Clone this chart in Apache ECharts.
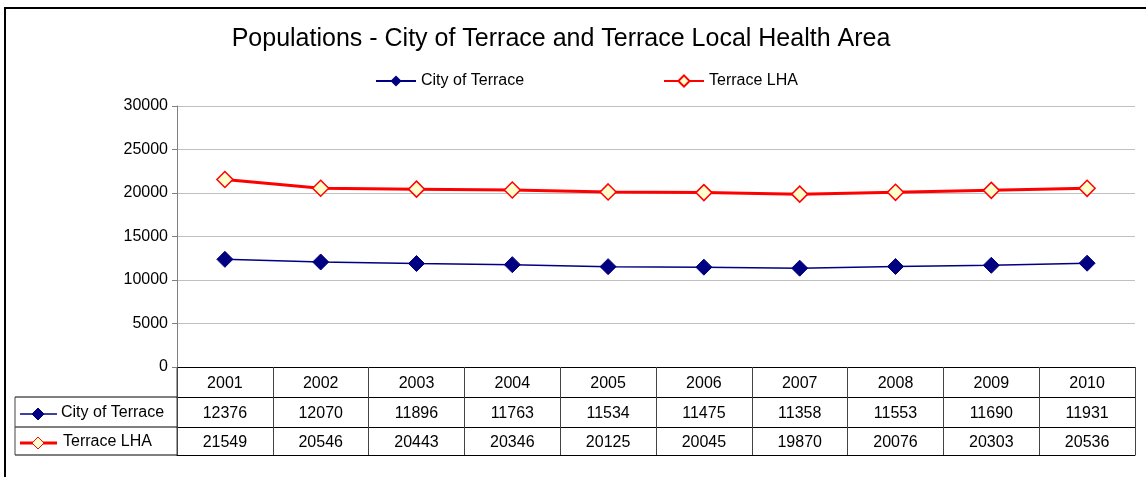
<!DOCTYPE html>
<html><head><meta charset="utf-8">
<script src="https://cdn.jsdelivr.net/npm/echarts@6/dist/echarts.min.js"></script>
<style>html,body{margin:0;padding:0;background:#fff}#c{width:1146px;height:477px}</style>
</head><body><div id="c"></div>
<script>
var years = ['2001','2002','2003','2004','2005','2006','2007','2008','2009','2010'];
var cityVals = [12376,12070,11896,11763,11534,11475,11358,11553,11690,11931];
var lhaVals = [21549,20546,20443,20346,20125,20045,19870,20076,20303,20536];
var seriesNames = ['City of Terrace','Terrace LHA'];
var yTicks = {min:0, max:30000, interval:5000};

var FONT = 'Liberation Sans, Arial, sans-serif';
var FS = 16;
var chart = echarts.init(document.getElementById('c'));
function tableAxis(offset, formatter, margin, tickLen, showLabel){
  return {
    type:'category', data:years, position:'bottom', offset:offset, boundaryGap:true,
    axisLine:{show:true, lineStyle:{color:'#000',width:1}},
    axisTick:{show:tickLen>0, length:tickLen, inside:false, interval:0, lineStyle:{color:'#444',width:1}},
    axisLabel:{show:showLabel, interval:0, margin:margin, color:'#000', fontSize:FS, fontFamily:FONT, lineHeight:18,
      formatter:formatter},
    splitLine:{show:false}
  };
}
var L = 15, R = 177;
function diamond(cx, cy, r, fill, stroke){
  return {type:'polygon', shape:{points:[[cx,cy-r],[cx+r,cy],[cx,cy+r],[cx-r,cy]]}, style:{fill:fill, stroke:stroke, lineWidth:1}};
}
chart.setOption({
  animation:false,
  backgroundColor:'#fff',
  title:{text:'Populations - City of Terrace and Terrace Local Health Area', left:556, top:22, textAlign:'center',
    textStyle:{fontFamily:FONT, fontSize:25, fontWeight:'normal', color:'#000'}},
  legend:[
    {data:[seriesNames[0]], left:375, top:73, padding:0, itemWidth:40, itemHeight:14, itemGap:5,
      textStyle:{fontFamily:FONT, fontSize:FS, color:'#000'}},
    {data:[seriesNames[1]], left:663, top:73, padding:0, itemWidth:40, itemHeight:14, itemGap:5,
      textStyle:{fontFamily:FONT, fontSize:FS, color:'#000'}}
  ],
  grid:{left:177, right:11, top:106, bottom:110, containLabel:false},
  xAxis:[
    tableAxis(0, function(v){return v;}, 8, 30, true),
    tableAxis(30, function(v,i){return String(cityVals[i]);}, 8, 30, true),
    tableAxis(60, function(v,i){return String(lhaVals[i]);}, 7, 28, true),
    tableAxis(88, function(){return '';}, 0, 0, false)
  ],
  yAxis:{type:'value', min:yTicks.min, max:yTicks.max, interval:yTicks.interval,
    axisLine:{show:true, lineStyle:{color:'#808080'}},
    axisTick:{show:true, length:5, lineStyle:{color:'#808080'}},
    axisLabel:{color:'#000', fontSize:FS, fontFamily:FONT, margin:9, formatter:function(v){return String(v);}},
    splitLine:{lineStyle:{color:'#c0c0c0', width:1}}},
  series:[
    {name:seriesNames[0], type:'line', data:cityVals, xAxisIndex:0, symbol:'diamond', symbolSize:16,
      lineStyle:{color:'#000080', width:1.5}, itemStyle:{color:'#000080', borderColor:'#000080'}, color:'#000080'},
    {name:seriesNames[1], type:'line', data:lhaVals, xAxisIndex:0, symbol:'diamond', symbolSize:16,
      lineStyle:{color:'#ff0000', width:3}, itemStyle:{color:'#ffffcc', borderColor:'#ff0000', borderWidth:1.5}, color:'#ff0000'}
  ],
  graphic:[
    {type:'rect', shape:{x:5, y:8, width:1300, height:700}, style:{fill:'none', stroke:'#000', lineWidth:2}},
    {type:'line', shape:{x1:L, y1:397, x2:R, y2:397}, style:{stroke:'#000', lineWidth:1}},
    {type:'line', shape:{x1:L, y1:427, x2:R, y2:427}, style:{stroke:'#000', lineWidth:1}},
    {type:'line', shape:{x1:L, y1:455, x2:R, y2:455}, style:{stroke:'#000', lineWidth:1}},
    {type:'line', shape:{x1:L, y1:397, x2:L, y2:455}, style:{stroke:'#444', lineWidth:1}},
    {type:'line', shape:{x1:R, y1:367, x2:R, y2:455}, style:{stroke:'#444', lineWidth:1}},
    {type:'line', shape:{x1:20, y1:414, x2:57, y2:414}, style:{stroke:'#000080', lineWidth:1.5}},
    diamond(38, 414, 6, '#000080', '#000080'),
    {type:'text', left:61, top:405, style:{text:seriesNames[0], font:FS+'px '+FONT, fill:'#000'}},
    {type:'line', shape:{x1:20, y1:443, x2:57, y2:443}, style:{stroke:'#ff0000', lineWidth:3}},
    diamond(38, 443, 6, '#ffffcc', '#ff0000'),
    {type:'text', left:63, top:434, style:{text:seriesNames[1], font:FS+'px '+FONT, fill:'#000'}}
  ]
});
</script></body></html>
